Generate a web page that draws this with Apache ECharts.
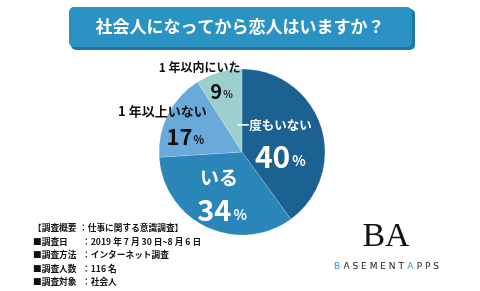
<!DOCTYPE html>
<html><head><meta charset="utf-8">
<script src="https://cdn.jsdelivr.net/npm/echarts@6/dist/echarts.min.js"></script>
<style>html,body{margin:0;padding:0;background:#fff}#c{width:480px;height:291px}</style>
</head><body><div id="c"></div>
<script>
var title = '社会人になってから恋人はいますか？';
var categories = ['一度もいない', 'いる', '1年以上いない', '1年以内にいた'];
var values = [40, 34, 17, 9];
var colors = ['#1b6191', '#2a85b8', '#6aaadb', '#9dcfcf'];
var footerLabels = ['【調査概要', '■調査日', '■調査方法', '■調査人数', '■調査対象'];
var footerValues = ['：仕事に関する意識調査】', '：2019 年 7 月 30 日~8 月 6 日', '：インターネット調査', '：116 名', '：社会人'];

var F = '"Noto Sans CJK JP", sans-serif';
var labelCfg = [
  {offset: [-10, 3], nm: 'wn', num: 'wb1', pc: 'wp'},
  {offset: [-4, 2], nm: 'wn2', num: 'wb2', pc: 'wp'},
  {offset: [-40, -8], nm: 'bn', num: 'bb', pc: 'bp'},
  {offset: [-30, -30], nm: 'bn2', num: 'bb2', pc: 'bp2'}
];
var data = categories.map(function (c, i) {
  return {
    name: c, value: values[i],
    itemStyle: {color: colors[i]},
    label: {
      offset: labelCfg[i].offset,
      formatter: '{' + labelCfg[i].nm + '|' + c.replace('1年', '1 年') + '}\n{' + labelCfg[i].num + '|' + values[i] + '}{' + labelCfg[i].pc + '|%}'
    }
  };
});

var graphics = [
  {type: 'rect', shape: {x: 71, y: 9, width: 344, height: 41, r: 5}, style: {fill: '#1f76a3'}},
  {type: 'rect', shape: {x: 69, y: 7, width: 343, height: 40, r: 5}, style: {fill: '#2b92c4'}},
  {type: 'text', x: 240, y: 27, style: {text: title, fill: '#fff', font: 'bold 17px ' + F, textAlign: 'center', textVerticalAlign: 'middle'}}
];
footerLabels.forEach(function (l, i) {
  graphics.push({type: 'text', x: 33, y: 228 + i * 13.5, style: {text: l, fill: '#111', font: 'bold 8.7px ' + F, textVerticalAlign: 'middle'}});
  graphics.push({type: 'text', x: i === 0 ? 79 : 82, y: 228 + i * 13.5, style: {text: footerValues[i], fill: '#111', font: 'bold 8.7px ' + F, textVerticalAlign: 'middle'}});
});
graphics.push({type: 'text', x: 386, y: 237, style: {text: 'BA', fill: '#111', font: '34px "Liberation Serif", serif', textAlign: 'center', textVerticalAlign: 'middle'}});
graphics.push({type: 'text', x: 334, y: 267, style: {rich: {b: {fill: '#3a92d6', font: '500 9px "DejaVu Sans", sans-serif'}, t: {fill: '#222', font: '9px "DejaVu Sans", sans-serif'}}, text: '{b|B} {t|A S E M E N T} {b|A} {t|P P S}', textVerticalAlign: 'middle'}});

var chart = echarts.init(document.getElementById('c'), null, {renderer: 'canvas'});
chart.setOption({
  animation: false,
  graphic: graphics,
  series: [{
    type: 'pie',
    center: [242, 152],
    radius: [0, 83],
    startAngle: 90,
    clockwise: true,
    silent: true,
    avoidLabelOverlap: false,
    minShowLabelAngle: 0,
    labelLayout: {hideOverlap: false},
    itemStyle: {borderColor: 'rgba(255,255,255,0.35)', borderWidth: 0.5},
    label: {
      show: true, position: 'inside', overflow: 'none',
      rich: {
        wn: {color: '#fff', fontFamily: F, fontWeight: 'bold', fontSize: 12.5, lineHeight: 30},
        wn2: {color: '#fff', fontFamily: F, fontWeight: 'bold', fontSize: 19, lineHeight: 32},
        wb1: {color: '#fff', fontFamily: F, fontWeight: 'bold', fontSize: 30, lineHeight: 32, padding: [0, 0, 0, 12]},
        wb2: {color: '#fff', fontFamily: F, fontWeight: 'bold', fontSize: 29, lineHeight: 32, padding: [0, 0, 0, 6]},
        wp: {color: '#fff', fontFamily: F, fontWeight: 'bold', fontSize: 14, padding: [9, 0, 0, 2]},
        bn: {color: '#111', fontFamily: F, fontWeight: 'bold', fontSize: 13, lineHeight: 26},
        bn2: {color: '#111', fontFamily: F, fontWeight: 'bold', fontSize: 12, lineHeight: 24},
        bb: {color: '#111', fontFamily: F, fontWeight: 'bold', fontSize: 22, lineHeight: 26, padding: [0, 0, 0, 46]},
        bb2: {color: '#111', fontFamily: F, fontWeight: 'bold', fontSize: 20, lineHeight: 24, padding: [0, 0, 0, 44]},
        bp: {color: '#111', fontFamily: F, fontWeight: 'bold', fontSize: 11, padding: [6, 0, 0, 1]},
        bp2: {color: '#111', fontFamily: F, fontWeight: 'bold', fontSize: 10, padding: [6, 0, 0, 1]}
      }
    },
    labelLine: {show: false},
    data: data
  }]
});
</script></body></html>
